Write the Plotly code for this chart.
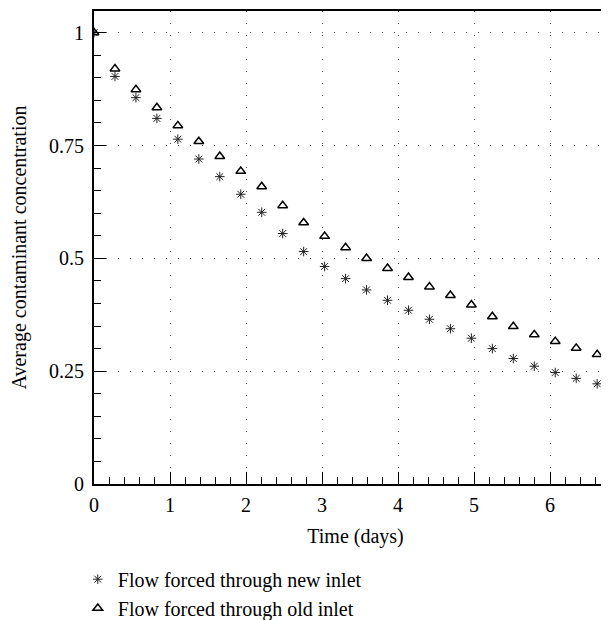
import plotly.graph_objects as go

step = 0.2758
n = 25
time_days = [round(i * step, 4) for i in range(n)]

new_inlet = [1.0, 0.903, 0.856, 0.810, 0.764, 0.720, 0.681, 0.642, 0.602, 0.555,
             0.515, 0.482, 0.455, 0.430, 0.407, 0.385, 0.365, 0.344, 0.323, 0.300,
             0.278, 0.261, 0.247, 0.234, 0.222]
old_inlet = [1.0, 0.920, 0.874, 0.834, 0.794, 0.759, 0.726, 0.693, 0.659, 0.617,
             0.579, 0.549, 0.524, 0.500, 0.478, 0.458, 0.437, 0.418, 0.397, 0.371,
             0.349, 0.331, 0.316, 0.301, 0.287]

x_ticks = [0, 1, 2, 3, 4, 5, 6]
y_ticks = [0, 0.25, 0.5, 0.75, 1]
y_ticklabels = ["0", "0.25", "0.5", "0.75", "1"]

FONT = "Liberation Serif"
FS = 20

fig = go.Figure()
fig.add_trace(go.Scatter(
    x=time_days, y=new_inlet, mode="markers",
    name="Flow forced through new inlet",
    marker=dict(symbol="asterisk-open", size=8, color="#222",
                line=dict(color="#222", width=1)),
))
fig.add_trace(go.Scatter(
    x=time_days, y=old_inlet, mode="markers",
    name="Flow forced through old inlet",
    marker=dict(symbol="triangle-up-open", size=8.5, color="black",
                line=dict(color="black", width=1.5)),
))

fig.update_layout(
    width=609, height=620,
    margin=dict(l=86, r=0, t=3, b=138),
    plot_bgcolor="white", paper_bgcolor="white",
    font=dict(family=FONT, size=FS, color="black"),
    showlegend=True,
    legend=dict(x=-0.031, y=-0.16, xanchor="left", yanchor="top",
                font=dict(family=FONT, size=FS), bgcolor="rgba(0,0,0,0)",
                tracegroupgap=0, itemwidth=30),
)

fig.update_xaxes(
    range=[0, 6.88], tickvals=x_ticks,
    showline=True, linecolor="black", linewidth=2, mirror=True,
    ticks="inside", ticklen=12, tickwidth=1, tickcolor="black",
    minor=dict(dtick=0.2, ticks="inside", ticklen=7, tickcolor="black", showgrid=False),
    showgrid=True, gridcolor="#555", gridwidth=1, griddash="1px,11px",
    zeroline=False, ticklabelstandoff=2,
    title=dict(text="Time (days)", font=dict(family=FONT, size=FS), standoff=14),
    tickfont=dict(family=FONT, size=FS),
)
fig.update_yaxes(
    range=[0, 1.048], tickvals=y_ticks, ticktext=y_ticklabels,
    showline=True, linecolor="black", linewidth=2,
    ticks="inside", ticklen=12, tickwidth=1, tickcolor="black",
    minor=dict(dtick=0.05, ticks="inside", ticklen=7, tickcolor="black", showgrid=False),
    showgrid=True, gridcolor="#555", gridwidth=1, griddash="1px,11px",
    zeroline=False, ticklabelstandoff=4,
    title=dict(text="Average contaminant concentration", font=dict(family=FONT, size=FS), standoff=18),
    tickfont=dict(family=FONT, size=FS),
)

fig.write_html("out.html")
